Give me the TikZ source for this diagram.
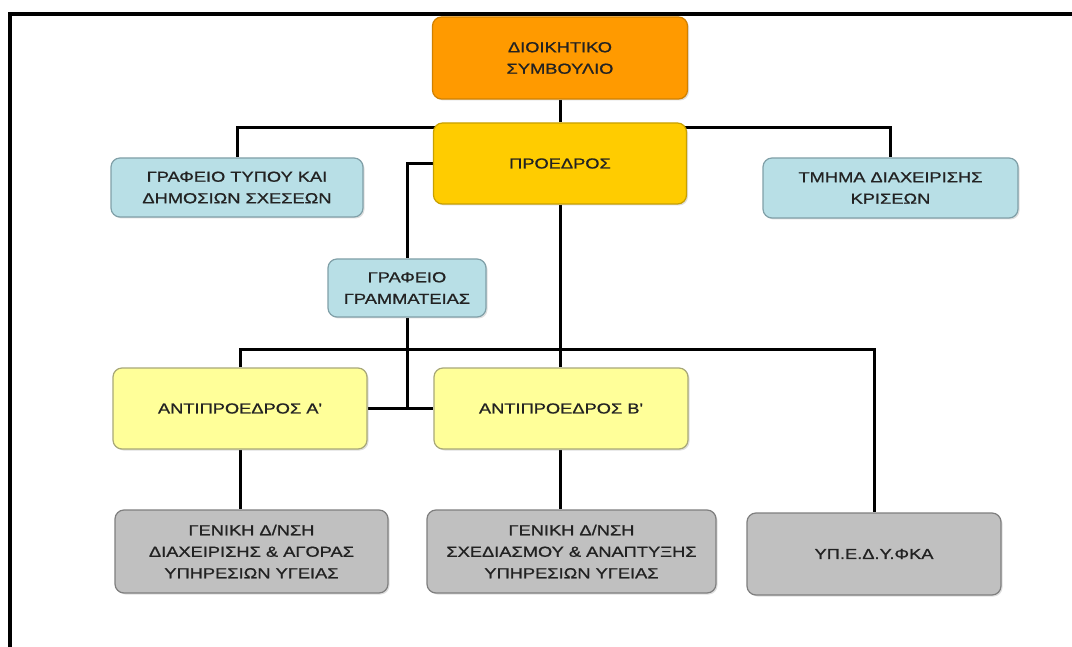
\documentclass[tikz,border=0pt]{standalone}
\usepackage{fontspec}
\setmainfont{Liberation Sans}
\newfontfamily\orgfont{Liberation Sans}[FakeStretch=1.26, FakeBold=1]
\usetikzlibrary{shadows}
\pgfdeclarelayer{background}
\pgfsetlayers{background,main}
\definecolor{boardfill}{HTML}{FF9A00}
\definecolor{boarddraw}{HTML}{D08000}
\definecolor{presfill}{HTML}{FFCC00}
\definecolor{presdraw}{HTML}{C8A000}
\definecolor{officefill}{HTML}{B8DFE6}
\definecolor{officedraw}{HTML}{80A0A8}
\definecolor{vicefill}{HTML}{FFFF99}
\definecolor{vicedraw}{HTML}{A8A878}
\definecolor{deptfill}{HTML}{C0C0C0}
\definecolor{deptdraw}{HTML}{7F7F7F}
\definecolor{labeltext}{HTML}{222222}
\tikzset{
  orgbox/.style={rounded corners=9pt, line width=1.2pt, align=center,
    inner sep=2pt, text=labeltext,
    font=\orgfont\fontsize{14.5}{21.5}\selectfont,
    drop shadow={shadow xshift=1.5pt, shadow yshift=-1.5pt, opacity=0.25}},
  board/.style={orgbox, fill=boardfill, draw=boarddraw},
  pres/.style={orgbox, fill=presfill, draw=presdraw},
  office/.style={orgbox, fill=officefill, draw=officedraw},
  vice/.style={orgbox, fill=vicefill, draw=vicedraw},
  dept/.style={orgbox, fill=deptfill, draw=deptdraw},
  link/.style={line width=3pt, black},
  frameline/.style={line width=4pt, black}
}
\begin{document}
\begin{tikzpicture}[x=1pt, y=-1pt]
\useasboundingbox (0,0) rectangle (1072,647);

% boxes
\node[board, minimum width=255pt, minimum height=82pt] (dsb) at (560,58) {ΔΙΟΙΚΗΤΙΚΟ\\ΣΥΜΒΟΥΛΙΟ};
\node[pres, minimum width=253pt, minimum height=81pt] (pro) at (560,163.5) {ΠΡΟΕΔΡΟΣ};
\node[office, minimum width=252pt, minimum height=59pt] (typ) at (237,187.5) {ΓΡΑΦΕΙΟ ΤΥΠΟΥ ΚΑΙ\\ΔΗΜΟΣΙΩΝ ΣΧΕΣΕΩΝ};
\node[office, minimum width=255pt, minimum height=60pt] (krs) at (890.5,188) {ΤΜΗΜΑ ΔΙΑΧΕΙΡΙΣΗΣ\\ΚΡΙΣΕΩΝ};
\node[office, minimum width=158pt, minimum height=58pt] (gra) at (407,288) {ΓΡΑΦΕΙΟ\\ΓΡΑΜΜΑΤΕΙΑΣ};
\node[vice, minimum width=254pt, minimum height=81pt] (anta) at (240,408.5) {ΑΝΤΙΠΡΟΕΔΡΟΣ Α'};
\node[vice, minimum width=254pt, minimum height=81pt] (antb) at (561,408.5) {ΑΝΤΙΠΡΟΕΔΡΟΣ Β'};
\node[dept, minimum width=273pt, minimum height=83pt] (gen1) at (251.5,551.5) {ΓΕΝΙΚΗ Δ/ΝΣΗ\\ΔΙΑΧΕΙΡΙΣΗΣ \& ΑΓΟΡΑΣ\\ΥΠΗΡΕΣΙΩΝ ΥΓΕΙΑΣ};
\node[dept, minimum width=289pt, minimum height=83pt] (gen2) at (571.5,551.5) {ΓΕΝΙΚΗ Δ/ΝΣΗ\\ΣΧΕΔΙΑΣΜΟΥ \& ΑΝΑΠΤΥΞΗΣ\\ΥΠΗΡΕΣΙΩΝ ΥΓΕΙΑΣ};
\node[dept, minimum width=254pt, minimum height=82pt] (yped) at (874,554) {ΥΠ.Ε.Δ.Υ.ΦΚΑ};

% junction points
\coordinate (topbus) at (560,128);
\coordinate (midbus) at (560,350);
\coordinate (secr) at (407,163.5);
\coordinate (vicejoin) at (407,408.5);
\coordinate (leftdrop) at (240,480);
\coordinate (middrop) at (560,480);

% outer frame corners (top and left edges)
\coordinate (f1) at (1072,14);
\coordinate (f2) at (10,14);
\coordinate (f3) at (10,647);

\begin{pgfonlayer}{background}
\fill[white] (0,0) rectangle (1072,647);
\draw[frameline] (f1) -- (f2) -- (f3);

% board to president, staff offices
\draw[link] (dsb.south) -- (pro.north);
\draw[link] (typ.north) |- (topbus) -| (krs.north);

% secretariat line from the president
\draw[link] (pro.west) -- (secr) -- (gra.north);
\draw[link] (gra.south) -- (vicejoin);
\draw[link] (anta.east) -- (antb.west);

% president down to the vice presidents and the fund
\draw[link] (pro.south) -- (midbus);
\draw[link] (anta.north) |- (midbus) -| (yped.north);
\draw[link] (midbus) -- (midbus |- antb.north);

% vice presidents to their directorates
\draw[link] (leftdrop |- anta.south) -- (leftdrop |- gen1.north);
\draw[link] (middrop |- antb.south) -- (middrop |- gen2.north);
\end{pgfonlayer}
\end{tikzpicture}
\end{document}
